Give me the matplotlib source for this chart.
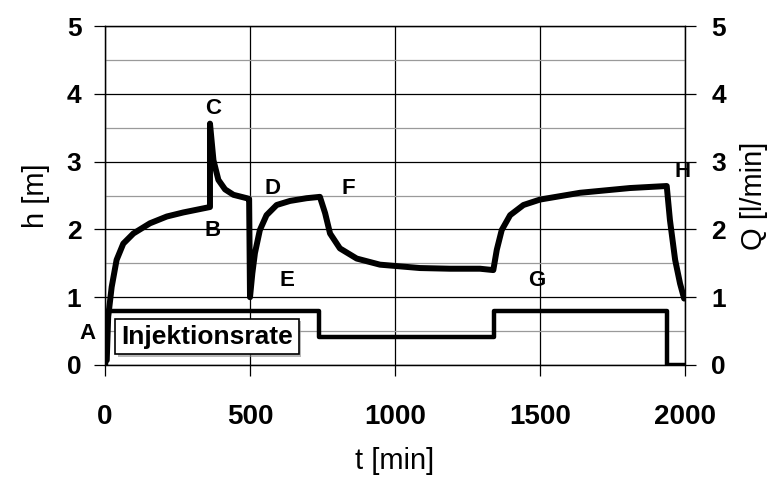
import matplotlib
matplotlib.use('Agg')
import matplotlib.pyplot as plt
import matplotlib.patheffects as pe

plt.rcParams['font.family'] = ['Liberation Sans', 'DejaVu Sans']

# water level h [m] over time t [min]
t_h = [6, 11, 23, 40, 63, 98, 155, 213, 270, 362, 362, 374, 391, 414, 443, 489, 497,
       500, 508, 517, 534, 557, 592, 638, 695, 741, 759, 776, 810, 868, 948, 1086, 1190,
       1293, 1339, 1351, 1368, 1397, 1443, 1500, 1638, 1810, 1937, 1948, 1966, 1983, 1997]
h = [0.07, 0.71, 1.15, 1.55, 1.79, 1.94, 2.09, 2.19, 2.25, 2.33, 3.56, 3.02, 2.73, 2.59,
     2.51, 2.46, 2.45, 1.0, 1.35, 1.65, 1.99, 2.21, 2.36, 2.42, 2.46, 2.48, 2.24, 1.94,
     1.72, 1.57, 1.48, 1.43, 1.42, 1.42, 1.40, 1.70, 1.99, 2.21, 2.36, 2.44, 2.54, 2.61,
     2.64, 2.14, 1.55, 1.2, 0.98]

# injection rate Q [l/min] (steps)
t_q = [0, 5, 738, 1340, 1937, 2000]
q = [0, 0.8, 0.42, 0.8, 0, 0]

# point labels
pt_names = ['A', 'B', 'C', 'D', 'E', 'F', 'G', 'H']
pt_t = [-60, 372, 372, 576, 628, 838, 1490, 1993]
pt_h = [0.47, 1.98, 3.79, 2.6, 1.25, 2.61, 1.25, 2.85]

fig = plt.figure(figsize=(7.77, 4.86), dpi=100)
ax = fig.add_axes([105/777, 1-365/486, 580/777, 339/486])

ax.set_xlim(0, 2000)
ax.set_ylim(0, 5)
ax.set_xticks([0, 500, 1000, 1500, 2000])
ax.set_yticks([0, 1, 2, 3, 4, 5])
ax.set_yticks([0.5, 1.5, 2.5, 3.5, 4.5], minor=True)
ax.grid(True, which='major', color='black', lw=0.9)
ax.grid(True, which='minor', axis='y', color='#9a9a9a', lw=0.9)
ax.tick_params(which='minor', length=0)
ax.tick_params(which='major', direction='out', length=8, width=0.9, labelsize=19)
ax.tick_params(axis='x', pad=20, labelsize=20)
ax.tick_params(axis='y', pad=9)
for lab in ax.get_xticklabels() + ax.get_yticklabels():
    lab.set_fontweight('bold')
for s in ax.spines.values():
    s.set_linewidth(0.9)

ax.plot(t_q, q, drawstyle='steps-post', color='black', lw=3.2, zorder=3)
ax.plot(t_h, h, color='black', lw=4.3, solid_joinstyle='round', solid_capstyle='round', zorder=4)

for name, tx, hy in zip(pt_names, pt_t, pt_h):
    ax.text(tx, hy, name, ha='center', va='center', fontsize=16, fontweight='bold',
            clip_on=False, zorder=6)

# legend-like box with a soft shadow
box = ax.text(55, 0.42, 'Injektionsrate', ha='left', va='center', fontsize=19,
              fontweight='bold', zorder=7,
              bbox=dict(boxstyle='square,pad=0.22', fc='white', ec='black', lw=1.2))
box.get_bbox_patch().set_path_effects([
    pe.SimplePatchShadow(offset=(2, -2), shadow_rgbFace='#888888', alpha=0.6),
    pe.Normal()])

ax.set_xlabel('t [min]', fontsize=21, labelpad=12)
ax.set_ylabel('h [m]', fontsize=21, labelpad=12)

ax2 = ax.twinx()
ax2.set_ylim(0, 5)
ax2.set_yticks([0, 1, 2, 3, 4, 5])
ax2.tick_params(direction='out', length=8, width=0.9, labelsize=19, pad=11)
for lab in ax2.get_yticklabels():
    lab.set_fontweight('bold')
for s in ax2.spines.values():
    s.set_linewidth(0.9)
ax2.set_ylabel('Q [l/min]', fontsize=21, labelpad=10)

fig.savefig('out.png', dpi=100)
